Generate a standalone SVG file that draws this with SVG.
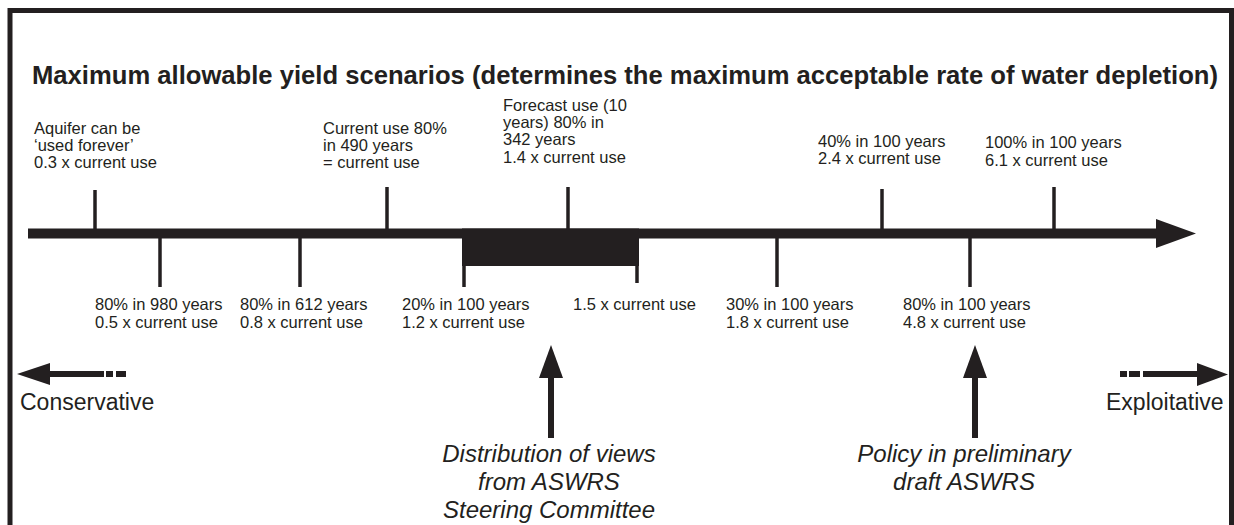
<svg xmlns="http://www.w3.org/2000/svg" width="1234" height="525" viewBox="0 0 1234 525">
<style>
.t{font-family:"Liberation Sans",Arial,sans-serif;font-size:16.5px;fill:#231f20}
.title{font-family:"Liberation Sans",Arial,sans-serif;font-size:25px;font-weight:bold;fill:#231f20}
.end{font-family:"Liberation Sans",Arial,sans-serif;font-size:23px;fill:#231f20}
.it{font-family:"Liberation Sans",Arial,sans-serif;font-size:24px;font-style:italic;fill:#231f20;text-anchor:middle}
.tick{stroke:#231f20;stroke-width:3.5;fill:none}
.ink{fill:#231f20}
</style>
<rect width="1234" height="525" fill="#ffffff"/>
<path d="M10,530 V10.5 H1231.5 V530" fill="none" stroke="#231f20" stroke-width="5"/>
<g id="title"><text class="title" x="32" y="84" textLength="1186" lengthAdjust="spacingAndGlyphs">Maximum allowable yield scenarios (determines the maximum acceptable rate of water depletion)</text></g>

<g id="connectors">
<rect class="ink" x="28" y="228.5" width="1130" height="10"/>
<polygon class="ink" points="1156,219 1196,233.5 1156,248"/>
<rect class="ink" x="462" y="228.5" width="177" height="37.5"/>
<line class="tick" x1="95" y1="190" x2="95" y2="230"/>
<line class="tick" x1="387" y1="187" x2="387" y2="230"/>
<line class="tick" x1="568" y1="187" x2="568" y2="230"/>
<line class="tick" x1="882" y1="189" x2="882" y2="230"/>
<line class="tick" x1="1054" y1="187" x2="1054" y2="230"/>
<line class="tick" x1="160" y1="237" x2="160" y2="287"/>
<line class="tick" x1="300" y1="237" x2="300" y2="287"/>
<line class="tick" x1="464" y1="237" x2="464" y2="287"/>
<line class="tick" x1="637" y1="237" x2="637" y2="283"/>
<line class="tick" x1="777" y1="237" x2="777" y2="287"/>
<line class="tick" x1="970" y1="237" x2="970" y2="287"/>
</g>

<g id="n-aquifer"><text class="t" x="34" y="134">Aquifer can be</text><text class="t" x="34" y="151">‘used forever’</text><text class="t" x="34" y="168">0.3 x current use</text></g>
<g id="n-current"><text class="t" x="323" y="134">Current use 80%</text><text class="t" x="323" y="151">in 490 years</text><text class="t" x="323" y="168">= current use</text></g>
<g id="n-forecast"><text class="t" x="503" y="111">Forecast use (10</text><text class="t" x="503" y="128">years) 80% in</text><text class="t" x="503" y="145">342 years</text><text class="t" x="503" y="163">1.4 x current use</text></g>
<g id="n-40"><text class="t" x="818" y="147">40% in 100 years</text><text class="t" x="818" y="164">2.4 x current use</text></g>
<g id="n-100"><text class="t" x="985" y="148">100% in 100 years</text><text class="t" x="985" y="166">6.1 x current use</text></g>

<g id="n-980"><text class="t" x="95" y="310">80% in 980 years</text><text class="t" x="95" y="328">0.5 x current use</text></g>
<g id="n-612"><text class="t" x="240" y="310">80% in 612 years</text><text class="t" x="240" y="328">0.8 x current use</text></g>
<g id="n-20"><text class="t" x="402" y="310">20% in 100 years</text><text class="t" x="402" y="328">1.2 x current use</text></g>
<g id="n-15"><text class="t" x="573" y="310">1.5 x current use</text></g>
<g id="n-30"><text class="t" x="726" y="310">30% in 100 years</text><text class="t" x="726" y="328">1.8 x current use</text></g>
<g id="n-80"><text class="t" x="903" y="310">80% in 100 years</text><text class="t" x="903" y="328">4.8 x current use</text></g>

<g id="n-conservative">
<polygon class="ink" points="17,374 50,363 50,385"/>
<rect class="ink" x="49" y="371" width="55" height="6"/>
<rect class="ink" x="106" y="371" width="7" height="6"/>
<rect class="ink" x="116" y="371" width="10" height="6"/>
<text class="end" x="20" y="410">Conservative</text>
</g>
<g id="n-exploitative">
<rect class="ink" x="1120" y="371" width="7" height="6"/>
<rect class="ink" x="1129" y="371" width="11" height="6"/>
<rect class="ink" x="1143" y="371" width="56" height="6"/>
<polygon class="ink" points="1197,363 1228,374.5 1197,386"/>
<text class="end" x="1106" y="410">Exploitative</text>
</g>
<g id="n-distribution">
<polygon class="ink" points="551,345 563,378 539,378"/>
<rect class="ink" x="548" y="376" width="6" height="62"/>
<text class="it" x="549" y="462">Distribution of views</text>
<text class="it" x="549" y="490">from ASWRS</text>
<text class="it" x="549" y="518">Steering Committee</text>
</g>
<g id="n-policy">
<polygon class="ink" points="975,345 987,378 963,378"/>
<rect class="ink" x="972" y="376" width="6" height="62"/>
<text class="it" x="964" y="462">Policy in preliminary</text>
<text class="it" x="964" y="490">draft ASWRS</text>
</g>
</svg>
